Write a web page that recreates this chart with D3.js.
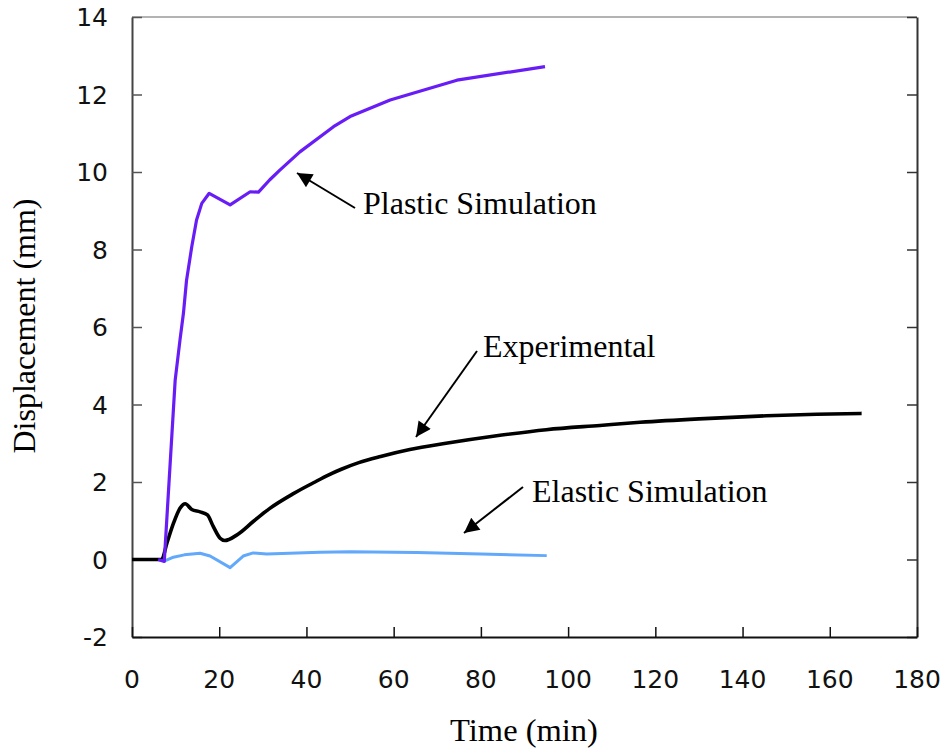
<!DOCTYPE html>
<html>
<head>
<meta charset="utf-8">
<script src="https://cdn.jsdelivr.net/npm/d3@7"></script>
<style>
  html, body { margin: 0; padding: 0; background: #fff; }
  svg { display: block; }
</style>
</head>
<body>
<svg id="chart" width="948" height="752"></svg>
<script>
// Displacement vs time: experimental measurement and two simulations
const xTicks = [0, 20, 40, 60, 80, 100, 120, 140, 160, 180];
const yTicks = [-2, 0, 2, 4, 6, 8, 10, 12, 14];

const experimentalTime = [0, 6.8, 8, 9.5, 11, 12.2, 13.7, 15.6, 17.3, 18.6, 20.2, 21.3, 24, 27.8, 31.6, 37, 41.6, 45, 48, 52, 57, 63.7, 72, 82.8, 95, 107.3, 116.5, 130, 145.5, 157, 167.3];
const experimentalDisp = [0, 0, 0.42, 0.93, 1.32, 1.44, 1.29, 1.23, 1.15, 0.86, 0.55, 0.49, 0.63, 0.98, 1.32, 1.7, 1.98, 2.18, 2.33, 2.5, 2.66, 2.84, 3.0, 3.18, 3.35, 3.46, 3.54, 3.63, 3.71, 3.75, 3.77];

const plasticTime = [6, 7.4, 9.9, 11, 11.8, 12.5, 13.7, 14.8, 16, 17.7, 22.5, 27.1, 29, 31.6, 33.9, 38.5, 46.2, 50, 59.2, 74.5, 94.7];
const plasticDisp = [0, -0.05, 4.63, 5.66, 6.36, 7.2, 8.07, 8.76, 9.19, 9.45, 9.15, 9.49, 9.48, 9.8, 10.05, 10.52, 11.17, 11.43, 11.86, 12.37, 12.72];

const elasticTime = [7.4, 9.5, 12, 15.6, 17.9, 22.5, 25.5, 27.8, 30.9, 43.1, 50, 65.3, 80, 95.1];
const elasticDisp = [-0.04, 0.06, 0.12, 0.16, 0.09, -0.21, 0.09, 0.17, 0.14, 0.19, 0.2, 0.18, 0.14, 0.1];

const svg = d3.select("#chart");
const plot = { left: 132, right: 917, top: 17, bottom: 637 };

const x = d3.scaleLinear().domain([0, 180]).range([plot.left, plot.right]);
const y = d3.scaleLinear().domain([-2, 14]).range([plot.bottom, plot.top]);

const tickFont = "'DejaVu Sans', Verdana, sans-serif";
const serif = "'Liberation Serif', 'Times New Roman', serif";

// frame: faint top edge, dark left/right/bottom
svg.append("line").attr("x1", plot.left).attr("x2", plot.right).attr("y1", plot.top).attr("y2", plot.top)
  .attr("stroke", "#9a9a9a").attr("stroke-width", 1.3);

// left axis, ticks pointing inward
const yAxisL = svg.append("g").attr("transform", `translate(${plot.left},0)`)
  .call(d3.axisRight(y).tickValues(yTicks).tickSize(10).tickSizeOuter(0).tickFormat(""));
yAxisL.select(".domain").attr("stroke", "#444").attr("stroke-width", 2);
yAxisL.selectAll(".tick line").attr("stroke", "#555").attr("stroke-width", 1.5);

// right axis, ticks pointing inward
const yAxisR = svg.append("g").attr("transform", `translate(${plot.right},0)`)
  .call(d3.axisLeft(y).tickValues(yTicks).tickSize(10).tickSizeOuter(0).tickFormat(""));
yAxisR.select(".domain").attr("stroke", "#333").attr("stroke-width", 2);
yAxisR.selectAll(".tick line").attr("stroke", "#333").attr("stroke-width", 1.5);

// bottom axis, ticks pointing up
const xAxis = svg.append("g").attr("transform", `translate(0,${plot.bottom})`)
  .call(d3.axisTop(x).tickValues(xTicks).tickSize(10).tickSizeOuter(0).tickFormat(""));
xAxis.select(".domain").attr("stroke", "#111").attr("stroke-width", 2.2);
xAxis.selectAll(".tick line").attr("stroke", "#111").attr("stroke-width", 1.5);

// tick labels
svg.append("g").selectAll("text").data(xTicks).join("text")
  .attr("x", d => x(d)).attr("y", 688)
  .attr("text-anchor", "middle")
  .attr("font-family", tickFont).attr("font-size", 25).attr("fill", "#111")
  .text(d => d);

svg.append("g").selectAll("text").data(yTicks).join("text")
  .attr("x", 108).attr("y", d => y(d))
  .attr("dy", "0.36em")
  .attr("text-anchor", "end")
  .attr("font-family", tickFont).attr("font-size", 25).attr("fill", "#111")
  .text(d => d);

// axis titles
svg.append("text").attr("x", 524).attr("y", 741)
  .attr("text-anchor", "middle")
  .attr("font-family", serif).attr("font-size", 32.5).attr("fill", "#000")
  .text("Time (min)");

svg.append("text")
  .attr("transform", "translate(35,326) rotate(-90)")
  .attr("text-anchor", "middle")
  .attr("font-family", serif).attr("font-size", 32).attr("fill", "#000")
  .text("Displacement (mm)");

// series
const line = d3.line().x(d => x(d[0])).y(d => y(d[1]));
const smooth = d3.line().x(d => x(d[0])).y(d => y(d[1])).curve(d3.curveMonotoneX);

const zip = (a, b) => a.map((t, i) => [t, b[i]]);

svg.append("path").datum(zip(experimentalTime, experimentalDisp))
  .attr("d", smooth).attr("fill", "none")
  .attr("stroke", "#000").attr("stroke-width", 3.6).attr("stroke-linejoin", "round");

svg.append("path").datum(zip(elasticTime, elasticDisp))
  .attr("d", line).attr("fill", "none")
  .attr("stroke", "#62a8fb").attr("stroke-width", 3).attr("stroke-linejoin", "round");

svg.append("path").datum(zip(plasticTime, plasticDisp))
  .attr("d", line).attr("fill", "none")
  .attr("stroke", "#681df7").attr("stroke-width", 3.2).attr("stroke-linejoin", "round");

// annotations with arrows
const defs = svg.append("defs");
defs.append("marker").attr("id", "head")
  .attr("viewBox", "0 0 10 10").attr("refX", 10).attr("refY", 5)
  .attr("markerWidth", 9).attr("markerHeight", 7.5)
  .attr("markerUnits", "strokeWidth")
  .attr("orient", "auto")
  .append("path").attr("d", "M0,0 L10,5 L0,10 Z").attr("fill", "#000");

const notes = [
  { text: "Plastic Simulation", tx: 363, ty: 214, x1: 355, y1: 208, x2: 297, y2: 173 },
  { text: "Experimental", tx: 483, ty: 357, x1: 477, y1: 351, x2: 416, y2: 437 },
  { text: "Elastic Simulation", tx: 532, ty: 502, x1: 523, y1: 487, x2: 464, y2: 533 }
];

svg.append("g").selectAll("line").data(notes).join("line")
  .attr("x1", d => d.x1).attr("y1", d => d.y1)
  .attr("x2", d => d.x2).attr("y2", d => d.y2)
  .attr("stroke", "#000").attr("stroke-width", 2)
  .attr("marker-end", "url(#head)");

svg.append("g").selectAll("text").data(notes).join("text")
  .attr("x", d => d.tx).attr("y", d => d.ty)
  .attr("font-family", serif).attr("font-size", 32).attr("fill", "#000")
  .text(d => d.text);
</script>
</body>
</html>
